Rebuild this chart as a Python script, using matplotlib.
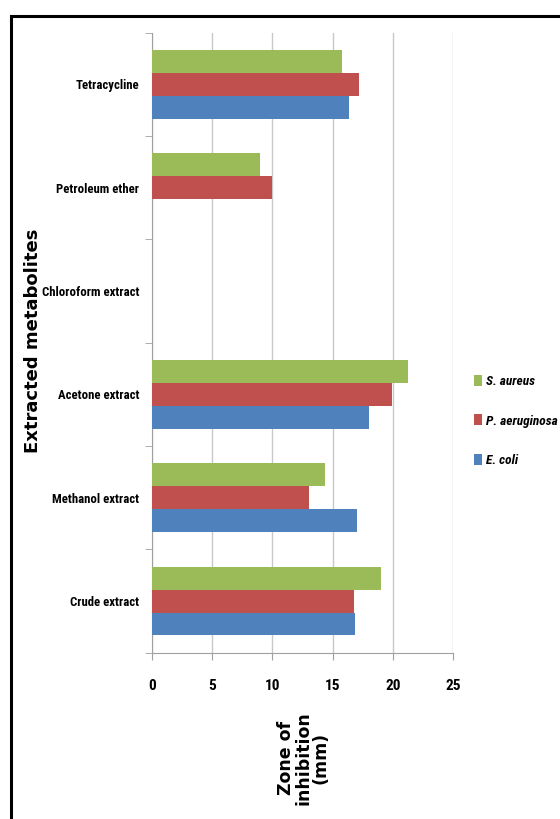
import matplotlib.pyplot as plt
import matplotlib.patches as mpatches
import numpy as np

categories = ['Crude extract', 'Methanol extract', 'Acetone extract',
              'Chloroform extract', 'Petroleum ether', 'Tetracycline']
e_coli = [16.9, 17.0, 18.0, 0, 0, 16.4]
p_aeruginosa = [16.75, 13.0, 19.9, 0, 10.0, 17.2]
s_aureus = [19.0, 14.4, 21.3, 0, 9.0, 15.8]
xticks = [0, 5, 10, 15, 20, 25]

blue = '#4f81bd'
red = '#c0504d'
green = '#9bbb59'
font = ['Roboto Condensed', 'Lato', 'DejaVu Sans']

fig = plt.figure(figsize=(5.6, 8.19), dpi=100)
# outer border (only left and top edges are visible)
fig.patches.append(mpatches.Rectangle((10.5/560, -0.05), 1.2, 1 - 15.5/819 + 0.05,
                                      transform=fig.transFigure, fill=False,
                                      edgecolor='black', linewidth=2.2))

ax = fig.add_axes([152/560, 1 - 652.7/819, 301/560, 620/819])
y = np.arange(len(categories))
h = 0.222
ax.barh(y - h, e_coli, height=h, color=blue, linewidth=0, label='E. coli', zorder=3)
ax.barh(y, p_aeruginosa, height=h, color=red, linewidth=0, label='P. aeruginosa', zorder=3)
ax.barh(y + h, s_aureus, height=h, color=green, linewidth=0, label='S. aureus', zorder=3)

ax.set_xlim(0, 25)
ax.set_ylim(-0.5, len(categories) - 0.5)
ax.set_xticks(xticks)
ax.set_xticklabels([str(t) for t in xticks], fontweight='bold', fontsize=11, family=font)
ax.set_yticks(y)
ax.set_yticklabels(categories, fontweight='bold', fontsize=9.2, family=font)
ax.set_yticks(np.arange(-0.5, len(categories)), minor=True)
ax.tick_params(axis='y', which='major', length=0, pad=9)
ax.tick_params(axis='y', which='minor', length=5, color='#a0a0a0')
ax.tick_params(axis='x', length=5, color='#a0a0a0', pad=14)
ax.grid(axis='x', color='#c8c8c8', linewidth=1, zorder=0)
for s in ['top', 'right']:
    ax.spines[s].set_visible(False)
ax.spines['left'].set_color('#a0a0a0')
ax.spines['bottom'].set_color('#a0a0a0')

fig.text(33/560, 1 - 341/819, 'Extracted metabolites', rotation=90, ha='center', va='center',
         fontsize=13, fontweight='bold')
fig.text(303/560, 1 - 758/819, 'Zone of\ninhibition\n(mm)', rotation=90, ha='center', va='center',
         fontsize=12.5, fontweight='bold', multialignment='center', linespacing=0.95)

handles, labels = ax.get_legend_handles_labels()
leg = fig.legend(handles[::-1], labels[::-1], loc='center left',
                 bbox_to_anchor=(462/560, 1 - 421/819), frameon=False,
                 handlelength=0.6, handleheight=0.9, handletextpad=0.3, labelspacing=2.0,
                 prop={'family': font, 'weight': 'bold', 'style': 'italic', 'size': 9.6})

fig.savefig('out.png', dpi=100)
